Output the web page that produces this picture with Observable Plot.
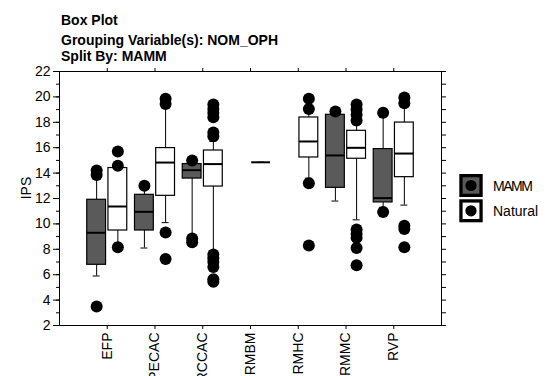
<!DOCTYPE html>
<html>
<head>
<meta charset="utf-8">
<script src="https://cdn.jsdelivr.net/npm/d3@7"></script>
<script src="https://cdn.jsdelivr.net/npm/@observablehq/plot@0.6"></script>
<style>
  html, body { margin: 0; padding: 0; background: #fff; }
  #wrap { position: relative; width: 547px; height: 376px; overflow: hidden; font-family: "Liberation Sans", Arial, sans-serif; }
  #wrap > svg.overlay { position: absolute; left: 0; top: 0; pointer-events: none; }
</style>
</head>
<body>
<div id="wrap">
  <div id="chart"></div>
  <svg class="overlay" width="547" height="376" font-family="Liberation Sans, Arial, sans-serif">
    <g font-size="14" font-weight="bold" fill="#000">
      <text x="61" y="25">Box Plot</text>
      <text x="61" y="44.5">Grouping Variable(s): NOM_OPH</text>
      <text x="61" y="61">Split By: MAMM</text>
    </g>
    <text transform="translate(30.5,188) rotate(-90)" text-anchor="middle" font-size="14">IPS</text>
    <g id="legend"></g>
  </svg>
</div>
<script>
// Groups on the x axis
const categories = ["EFP", "PECAC", "RCCAC", "RMBM", "RMHC", "RMMC", "RVP"];

// MAMM series: five-number summaries and outliers per group
const mammGroups = ["EFP", "PECAC", "RCCAC", "RMMC", "RVP"];
const mammLo  = [5.9, 8.1, 9.1, 11.8, 11.3];
const mammQ1  = [6.78, 9.48, 13.57, 12.84, 11.69];
const mammMed = [9.3, 10.95, 14.23, 15.39, 12.03];
const mammQ3  = [11.9, 12.29, 14.71, 18.59, 15.89];
const mammHi  = [13.5, 12.7, 14.71, 18.59, 18.4];
const mammOut = [[14.2, 13.85, 3.5], [13.0], [15.0, 8.85, 8.55], [18.85], [18.75, 10.93]];

// Natural series
const natGroups = ["EFP", "PECAC", "RCCAC", "RMBM", "RMHC", "RMMC", "RVP"];
const natLo  = [8.5, 10.1, 7.9, 14.85, 13.6, 10.32, 11.48];
const natQ1  = [9.48, 12.21, 12.94, 14.85, 15.23, 15.13, 13.68];
const natMed = [11.37, 14.83, 14.71, 14.85, 16.49, 15.99, 15.54];
const natQ3  = [14.4, 15.97, 15.78, 14.85, 18.38, 17.33, 17.98];
const natHi  = [14.4, 19.2, 16.5, 14.85, 18.8, 17.8, 19.2];
const natOut = [
  [15.7, 14.57, 8.17],
  [19.85, 19.45, 9.32, 7.23],
  [19.4, 19.05, 18.75, 18.4, 17.2, 16.9, 7.6, 7.3, 7.0, 6.6, 5.65, 5.45],
  [],
  [19.85, 19.05, 13.21, 8.3],
  [19.4, 19.0, 18.6, 18.15, 9.55, 9.2, 8.9, 8.1, 6.75],
  [19.95, 19.5, 9.85, 9.6, 8.17]
];

const seriesNames = ["MAMM", "Natural"];
const seriesFill = {MAMM: "#5a5a5a", Natural: "#ffffff"};
const seriesOffset = {MAMM: -0.222, Natural: 0.222};
const halfBox = 0.197, halfCap = 0.073;

function buildRows(name, groups, lo, q1, med, q3, hi) {
  return groups.map((g, i) => ({
    series: name,
    x: categories.indexOf(g) + 1 + seriesOffset[name],
    lo: lo[i], q1: q1[i], med: med[i], q3: q3[i], hi: hi[i]
  }));
}
function buildOutliers(name, groups, out) {
  return groups.flatMap((g, i) => out[i].map(v => ({
    series: name, x: categories.indexOf(g) + 1 + seriesOffset[name], y: v
  })));
}

const boxes = [
  ...buildRows("MAMM", mammGroups, mammLo, mammQ1, mammMed, mammQ3, mammHi),
  ...buildRows("Natural", natGroups, natLo, natQ1, natMed, natQ3, natHi)
];
const outliers = [
  ...buildOutliers("MAMM", mammGroups, mammOut),
  ...buildOutliers("Natural", natGroups, natOut)
];
const catTicks = categories.map((_, i) => i + 1);

const chart = Plot.plot({
  width: 547,
  height: 376,
  marginLeft: 59,
  marginRight: 106,
  marginTop: 71,
  marginBottom: 51,
  x: {domain: [0, 8]},
  y: {domain: [2, 22]},
  style: {fontFamily: "Liberation Sans, Arial, sans-serif", fontSize: "14px", color: "#000", background: "#fff"},
  marks: [
    Plot.frame({stroke: "#000"}),
    // y axis: labelled ticks every 2, minor ticks every 1
    Plot.axisY({ticks: d3.range(2, 23, 2), tickSize: 6, tickPadding: 3, label: null, fontSize: 14}),
    Plot.axisY({ticks: d3.range(2, 23, 1), tickSize: 3, tickFormat: () => "", label: null}),
    Plot.axisY({anchor: "right", ticks: d3.range(2, 23, 1), tickSize: 4, tickFormat: () => "", label: null}),
    // x axis: group names rotated below, plain ticks on top
    Plot.axisX({ticks: catTicks, tickFormat: i => categories[i - 1], tickRotate: -90, tickSize: 4, tickPadding: 3, label: null, fontSize: 14}),
    Plot.axisX({anchor: "top", ticks: catTicks, tickSize: 4, tickFormat: () => "", label: null}),
    // whiskers
    Plot.ruleX(boxes, {x: "x", y1: "lo", y2: "q1", stroke: "#000"}),
    Plot.ruleX(boxes, {x: "x", y1: "q3", y2: "hi", stroke: "#000"}),
    Plot.ruleY(boxes, {y: "lo", x1: d => d.x - halfCap, x2: d => d.x + halfCap, stroke: "#000"}),
    Plot.ruleY(boxes, {y: "hi", x1: d => d.x - halfCap, x2: d => d.x + halfCap, stroke: "#000"}),
    // boxes
    Plot.rect(boxes, {x1: d => d.x - halfBox, x2: d => d.x + halfBox, y1: "q1", y2: "q3",
      fill: d => seriesFill[d.series], stroke: "#000", strokeWidth: 1.2}),
    // medians
    Plot.ruleY(boxes, {y: "med", x1: d => d.x - halfBox, x2: d => d.x + halfBox, stroke: "#000", strokeWidth: 2}),
    // outliers
    Plot.dot(outliers, {x: "x", y: "y", r: 6, fill: "#000", stroke: "none"})
  ]
});
document.getElementById("chart").appendChild(chart);

// legend swatches
const legend = d3.select("#legend");
seriesNames.forEach((name, i) => {
  const y0 = 174 + i * 25.3;
  legend.append("rect").attr("x", 459.3).attr("y", y0).attr("width", 23.4).attr("height", 23).attr("fill", "#000");
  legend.append("rect").attr("x", 462.6).attr("y", y0 + 3.3).attr("width", 16.8).attr("height", 16.4).attr("fill", seriesFill[name]);
  legend.append("circle").attr("cx", 471).attr("cy", y0 + 11.5).attr("r", 5.6).attr("fill", "#000");
  legend.append("text").attr("x", 493).attr("y", y0 + 16.5).attr("font-size", 14)
    .attr("letter-spacing", name === "MAMM" ? -1.5 : 0).text(name);
});
</script>
</body>
</html>
